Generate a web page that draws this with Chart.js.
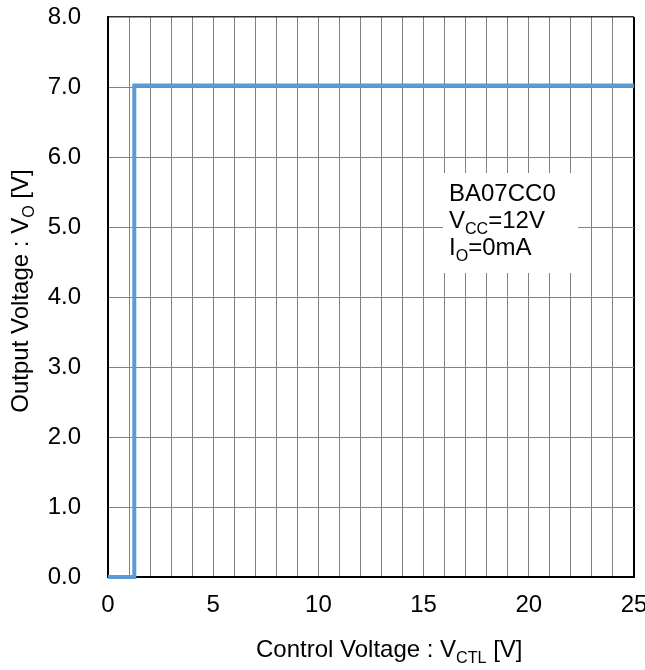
<!DOCTYPE html>
<html>
<head>
<meta charset="utf-8">
<script src="https://cdn.jsdelivr.net/npm/chart.js@4"></script>
<style>
  html, body { margin: 0; padding: 0; background: #fff; }
  #wrap { width: 645px; height: 670px; }
</style>
</head>
<body>
<div id="wrap"><canvas id="chart" width="645" height="670"></canvas></div>
<script>
// --- Data ---
const ctlVoltage = [0, 1.25, 1.25, 25];
const outVoltage = [0, 0, 7.02, 7.02];
const xTickLabels = [0, 5, 10, 15, 20, 25];
const yTickLabels = ['0.0', '1.0', '2.0', '3.0', '4.0', '5.0', '6.0', '7.0', '8.0'];
const noteLines = [
  [['BA07CC0', '']],
  [['V', ''], ['CC', 'sub'], ['=12V', '']],
  [['I', ''], ['O', 'sub'], ['=0mA', '']]
];

const FONT = 'Arial, "Liberation Sans", sans-serif';
const SUB = 0.67;

// draws a run of text pieces, subscripts shrunk and lowered
function drawRuns(ctx, runs, x, y, size) {
  runs.forEach(([txt, kind]) => {
    const s = kind === 'sub' ? size * SUB : size;
    ctx.font = s + 'px ' + FONT;
    ctx.fillText(txt, x, kind === 'sub' ? y + size * 0.25 : y);
    x += ctx.measureText(txt).width;
  });
  return x;
}
function runsWidth(ctx, runs, size) {
  let w = 0;
  runs.forEach(([txt, kind]) => {
    ctx.font = (kind === 'sub' ? size * SUB : size) + 'px ' + FONT;
    w += ctx.measureText(txt).width;
  });
  return w;
}

const extras = {
  id: 'extras',
  afterDraw(chart) {
    const ctx = chart.ctx;
    ctx.save();
    ctx.fillStyle = '#000';
    ctx.textBaseline = 'alphabetic';
    ctx.textAlign = 'left';

    // x title
    const xTitle = [['Control Voltage : V', ''], ['CTL', 'sub'], [' [V]', '']];
    drawRuns(ctx, xTitle, 256, 657, 24);

    // y title (rotated)
    const yTitle = [['Output Voltage : V', ''], ['O', 'sub'], [' [V]', '']];
    const yw = runsWidth(ctx, yTitle, 24);
    ctx.save();
    ctx.translate(28, 291);
    ctx.rotate(-Math.PI / 2);
    drawRuns(ctx, yTitle, -yw / 2, 0, 24);
    ctx.restore();

    // note box
    ctx.fillStyle = '#fff';
    ctx.fillRect(443, 173, 135, 100);
    ctx.fillStyle = '#000';
    noteLines.forEach((runs, i) => {
      drawRuns(ctx, runs, 449, 201 + i * 27, 24);
    });
    ctx.restore();
  }
};

function noPad(s) {
  s.paddingTop = 0; s.paddingBottom = 0; s.paddingLeft = 0; s.paddingRight = 0;
}

new Chart(document.getElementById('chart'), {
  type: 'scatter',
  data: {
    datasets: [{
      data: ctlVoltage.map((v, i) => ({ x: v, y: outVoltage[i] })),
      showLine: true,
      borderColor: '#5B9BD5',
      borderWidth: 4,
      pointRadius: 0,
      tension: 0,
      clip: false
    }]
  },
  options: {
    responsive: false,
    animation: false,
    layout: { padding: { top: 17, right: 11, left: 0, bottom: 0 } },
    plugins: { legend: { display: false }, tooltip: { enabled: false } },
    scales: {
      x: {
        type: 'linear',
        min: 0,
        max: 25,
        afterFit: s => { s.height = 93; noPad(s); },
        grid: {
          drawTicks: false,
          color: c => c.tick.value === 25 ? '#000' : '#808080',
          lineWidth: c => c.tick.value === 25 ? 2 : 1
        },
        border: { color: '#000', width: 2 },
        ticks: {
          stepSize: 1,
          autoSkip: false,
          maxRotation: 0,
          padding: 14,
          color: '#000',
          font: { family: FONT, size: 24 },
          callback: v => xTickLabels.includes(v) ? String(v) : ''
        }
      },
      y: {
        min: 0,
        max: 8,
        afterFit: s => { s.width = 108; noPad(s); },
        grid: {
          drawTicks: false,
          color: c => c.tick.value === 8 ? '#333' : '#808080',
          lineWidth: c => c.tick.value === 8 ? 1.5 : 1
        },
        border: { color: '#000', width: 2 },
        ticks: {
          stepSize: 1,
          padding: 27,
          color: '#000',
          font: { family: FONT, size: 24 },
          callback: v => yTickLabels[Math.round(v)]
        }
      }
    }
  },
  plugins: [extras]
});
</script>
</body>
</html>
